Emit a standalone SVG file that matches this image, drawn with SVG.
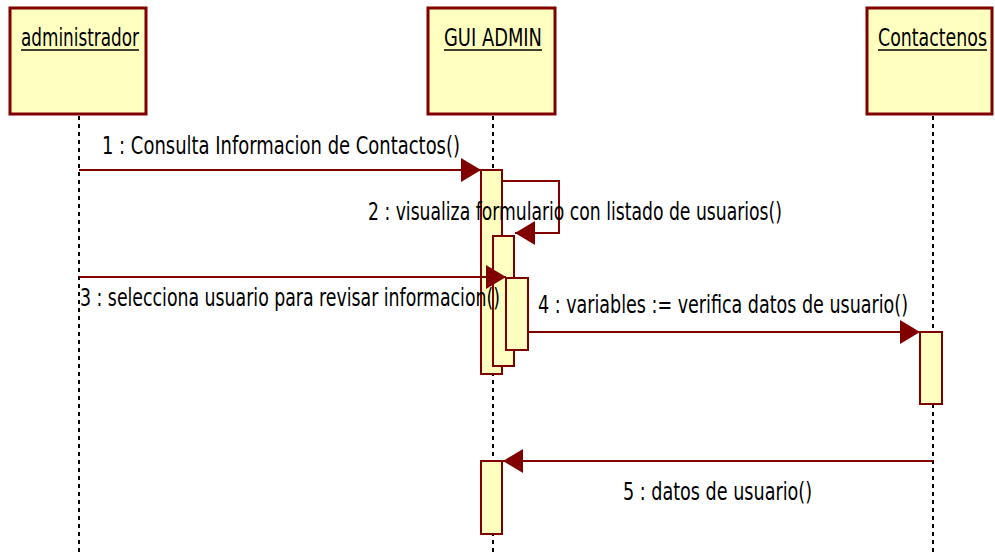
<svg xmlns="http://www.w3.org/2000/svg" width="995" height="555" viewBox="0 0 995 555">
<style>
.box{fill:#FFFFC0;stroke:#800000;stroke-width:3}
.bar{fill:#FFFFC0;stroke:#800000;stroke-width:2}
.life{stroke:#000;stroke-width:2;stroke-dasharray:4,4;fill:none}
.msg{stroke:#800000;stroke-width:2;fill:none;marker-end:url(#arr)}
.t{font-family:"DejaVu Sans Condensed","DejaVu Sans",sans-serif;font-size:24px;fill:#000;font-stretch:condensed}
.ul{stroke:#000;stroke-width:1.5}
</style>
<defs>
<marker id="arr" viewBox="0 0 20 24" refX="20" refY="12" markerWidth="20" markerHeight="24" markerUnits="userSpaceOnUse" orient="auto">
<path d="M0,0 L20,12 L0,24 z" fill="#800000"/>
</marker>
</defs>
<g id="lifelines">
<line class="life" x1="79" y1="116" x2="79" y2="555"/>
<line class="life" x1="493" y1="116" x2="493" y2="555"/>
<line class="life" x1="933" y1="116" x2="933" y2="555"/>
</g>
<g id="administrador">
<rect class="box" x="10" y="8" width="136" height="106"/>
<text class="t" x="21" y="46" textLength="118" lengthAdjust="spacingAndGlyphs">administrador</text>
<line class="ul" x1="21" y1="50" x2="139" y2="50"/>
</g>
<g id="gui_admin">
<rect class="box" x="428" y="8" width="127" height="106"/>
<text class="t" x="444" y="46" textLength="98" lengthAdjust="spacingAndGlyphs">GUI ADMIN</text>
<line class="ul" x1="444" y1="50" x2="542" y2="50"/>
<rect class="bar" x="481" y="170" width="21" height="204"/>
<rect class="bar" x="493" y="236" width="21" height="130"/>
<rect class="bar" x="506" y="278" width="22" height="72"/>
<rect class="bar" x="481" y="461" width="21" height="73"/>
</g>
<g id="contactenos">
<rect class="box" x="867" y="8" width="125" height="106"/>
<text class="t" x="878" y="46" textLength="109" lengthAdjust="spacingAndGlyphs">Contactenos</text>
<line class="ul" x1="878" y1="50" x2="987" y2="50"/>
<rect class="bar" x="920" y="332" width="22" height="72"/>
</g>
<g id="connectors">
<line class="msg" x1="79" y1="170" x2="481" y2="170"/>
<path class="msg" d="M502,181 H559 V233 H515"/>
<line class="msg" x1="79" y1="277" x2="506" y2="277"/>
<line class="msg" x1="528" y1="332" x2="920" y2="332"/>
<line class="msg" x1="933" y1="461" x2="503" y2="461"/>
</g>
<g id="labels">
<text class="t" x="102" y="154" textLength="358" lengthAdjust="spacingAndGlyphs">1 : Consulta Informacion de Contactos()</text>
<text class="t" x="368" y="220" textLength="414" lengthAdjust="spacingAndGlyphs">2 : visualiza formulario con listado de usuarios()</text>
<text class="t" x="80" y="306" textLength="420" lengthAdjust="spacingAndGlyphs">3 : selecciona usuario para revisar informacion()</text>
<text class="t" x="538" y="313" textLength="370" lengthAdjust="spacingAndGlyphs">4 : variables := verifica datos de usuario()</text>
<text class="t" x="623" y="500" textLength="189" lengthAdjust="spacingAndGlyphs">5 : datos de usuario()</text>
</g>
</svg>
